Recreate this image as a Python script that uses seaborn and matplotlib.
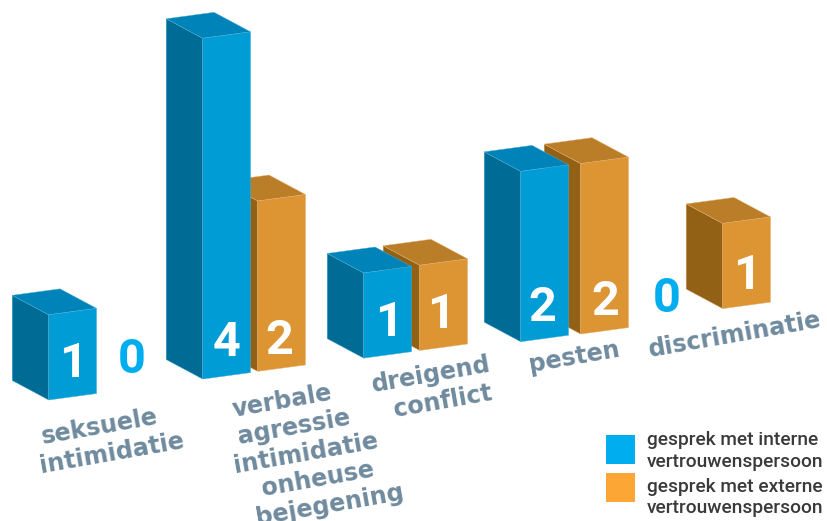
import matplotlib
matplotlib.use('Agg')
import matplotlib.pyplot as plt
import pandas as pd
import seaborn as sns
from matplotlib.patches import Polygon, Rectangle
from matplotlib.transforms import Affine2D, IdentityTransform

categories = ['seksuele', 'verbale', 'dreigend', 'pesten', 'discriminatie']
intern = [1, 4, 1, 2, 0]
extern = [0, 2, 1, 2, 1]
series_names = ['gesprek met interne\nvertrouwenspersoon', 'gesprek met externe\nvertrouwenspersoon']
axis_labels = [
    ['seksuele', 'intimidatie'],
    ['verbale', 'agressie', 'intimidatie', 'onheuse', 'bejegening'],
    ['dreigend', 'conflict'],
    ['pesten'],
    ['discriminatie'],
]

# layout in pixels of the 827x521 picture
W, H = 827, 521
PITCH = 155         # px between groups
UNIT = 85.2         # px per count
X0, Y0 = 48.7, 400  # front corner of first bar, from top left
SLOPE = 0.135       # floor rises to the right
DEPTH = (-36.5, 19.5)
nudge_intern = [(0, 0), (-1, 0), (5, 0), (7, -4.5), (-3, 0)]
nudge_extern = [(0, 0), (-3, 0), (4, 0), (10, -4.5), (-3, 0)]
lift = [0.38, 0.355]
# fine placement of the numbers: (group, series) -> dx, dy
label_nudge = {
    (0, 1): (2, -3), (4, 0): (-23, -18),
    (1, 1): (-2, -3), (2, 0): (1, 0), (2, 1): (-3, 2),
    (3, 0): (-2, -2), (3, 1): (1, -1), (4, 1): (0, -1),
}
label_first_line = [(100, 427), (282, 401), (431, 375), (574, 357), (735, 335)]
label_step = (12, 26)
legend_boxes = [(606, 435), (606, 473)]
legend_text_y = [451, 497.5]

FRONT = ['#009cd6', '#dd9433']
SIDE = ['#006b95', '#936116']
TOP = ['#0083b8', '#bb7e28']
EDGE = ['#4aafd6', '#e3ae6e']
LEGEND = ['#00aeef', '#fba635']

sns.set_style('white')
plt.rcParams['font.family'] = ['Roboto', 'DejaVu Sans']

df = pd.DataFrame({
    'categorie': categories * 2,
    'aantal': intern + extern,
    'soort': [series_names[0]] * 5 + [series_names[1]] * 5,
})

fig = plt.figure(figsize=(W / 100, H / 100), dpi=100)
ax = fig.add_axes([0, 0, 1, 1])
sns.barplot(data=df, x='categorie', y='aantal', hue='soort', palette=FRONT, width=0.735,
            gap=0.16, saturation=1, legend=False, ax=ax)

bar0 = ax.containers[0][0]
xmin = bar0.get_x() - X0 / PITCH
ax.set_xlim(xmin, xmin + W / PITCH)
ax.set_ylim(-(H - Y0) / UNIT, Y0 / UNIT)
ax.axis('off')

# shear in display space so the floor runs uphill
shear = Affine2D.from_values(1, SLOPE, 0, 1, 0, -SLOPE * X0)

for s, (container, nudges) in enumerate(zip(ax.containers, [nudge_intern, nudge_extern])):
    z = 3 - s
    for g, bar in enumerate(container):
        dx, dy = nudges[g]
        tf = ax.transData + shear + Affine2D().translate(dx, dy)
        x, w, h = bar.get_x(), bar.get_width(), bar.get_height()
        cx = x + w / 2
        value = [intern, extern][s][g]
        lx, ly = label_nudge.get((g, s), (0, 0))
        label_tf = tf + Affine2D().translate(lx, ly)
        if value == 0:
            bar.set_visible(False)
            ax.text(cx, lift[0], '0', transform=label_tf, color=LEGEND[0], fontsize=35,
                    fontweight='bold', ha='center', va='center')
            continue
        bar.set_transform(tf)
        bar.set_zorder(z + 0.2)
        bar.set_edgecolor(EDGE[s])
        bar.set_linewidth(0.3)
        bl, tl, tr = tf.transform([(x, 0), (x, h), (x + w, h)])
        d = DEPTH
        side = [bl, tl, tl + d, bl + d]
        top = [tl, tr, tr + d, tl + d]
        ax.add_patch(Polygon(side, closed=True, transform=IdentityTransform(), facecolor=SIDE[s],
                             edgecolor=EDGE[s], linewidth=0.3, zorder=z))
        ax.add_patch(Polygon(top, closed=True, transform=IdentityTransform(), facecolor=TOP[s],
                             edgecolor=EDGE[s], linewidth=0.3, zorder=z + 0.1))
        ax.text(cx, lift[s], str(value), transform=label_tf, color='white', fontsize=35,
                fontweight='bold', ha='center', va='center', zorder=z + 0.3)

# category labels, each line placed on its own
for lines, (lx, ly) in zip(axis_labels, label_first_line):
    for i, line in enumerate(lines):
        fig.text((lx + i * label_step[0]) / W, 1 - (ly + i * label_step[1]) / H, line,
                 family='DejaVu Sans', fontweight='bold', fontsize=17.2, color='#6f8a9e',
                 rotation=10, rotation_mode='anchor', ha='center', va='center')

# legend
for c, (bx, by), name, ty in zip(LEGEND, legend_boxes, series_names, legend_text_y):
    fig.add_artist(Rectangle((bx / W, 1 - (by + 29) / H), 29 / W, 29 / H, facecolor=c, edgecolor='none',
                             transform=fig.transFigure))
    fig.text(647 / W, 1 - ty / H, name, fontsize=13.8, fontweight='medium', color='#3a3a3a',
             va='center', ha='left', linespacing=1.26)

plt.savefig('out.png', dpi=100)
